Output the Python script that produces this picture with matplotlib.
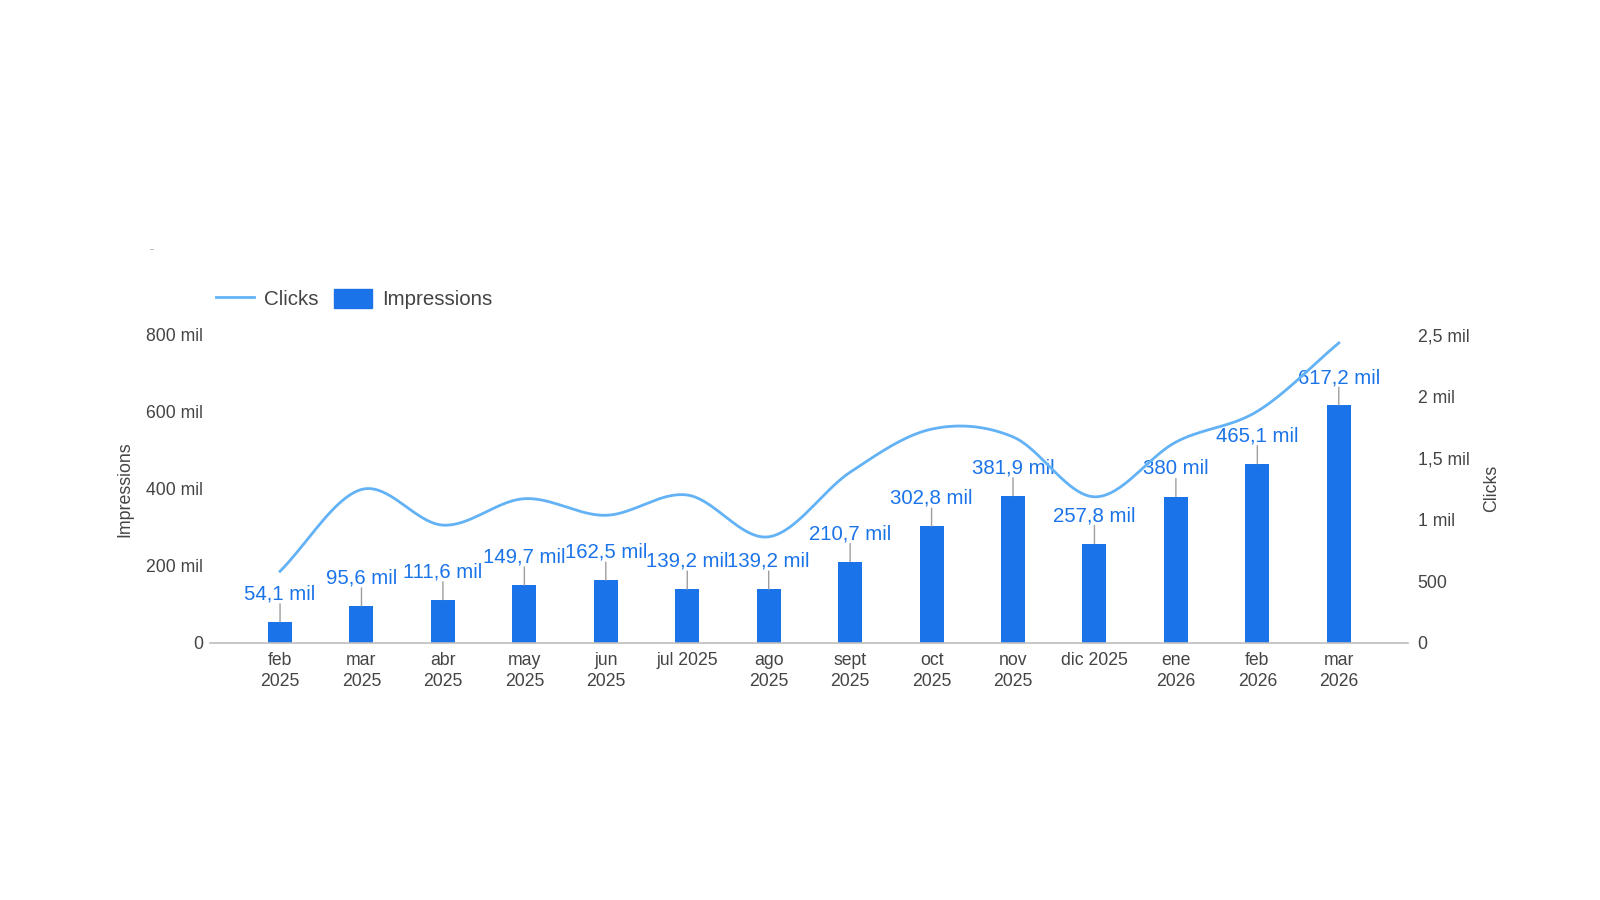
import numpy as np
import matplotlib
matplotlib.use('Agg')
import matplotlib.pyplot as plt
from matplotlib.lines import Line2D
from matplotlib.patches import Patch

plt.rcParams['font.family'] = ['Liberation Sans', 'DejaVu Sans']

# Data
months = ['feb\n2025', 'mar\n2025', 'abr\n2025', 'may\n2025', 'jun\n2025', 'jul 2025',
          'ago\n2025', 'sept\n2025', 'oct\n2025', 'nov\n2025', 'dic 2025', 'ene\n2026',
          'feb\n2026', 'mar\n2026']
impressions = [54.1, 95.6, 111.6, 149.7, 162.5, 139.2, 139.2, 210.7, 302.8, 381.9,
               257.8, 380.0, 465.1, 617.2]  # in mil
imp_labels = ['54,1 mil', '95,6 mil', '111,6 mil', '149,7 mil', '162,5 mil', '139,2 mil',
              '139,2 mil', '210,7 mil', '302,8 mil', '381,9 mil', '257,8 mil', '380 mil',
              '465,1 mil', '617,2 mil']
clicks = [580, 1245, 955, 1170, 1035, 1200, 860, 1385, 1735, 1672, 1185, 1630, 1880, 2435]

left_ticks = [0, 200, 400, 600, 800]
left_ticklabels = ['0', '200 mil', '400 mil', '600 mil', '800 mil']
right_ticks = [0, 500, 1000, 1500, 2000, 2500]
right_ticklabels = ['0', '500', '1 mil', '1,5 mil', '2 mil', '2,5 mil']

BAR = '#1a73e8'
LINE = '#62b2f5'
TXT = '#444444'


def smooth(x, y, n=20):
    # Catmull-Rom spline through the points
    x = np.asarray(x, float)
    y = np.asarray(y, float)
    px = np.concatenate([[2 * x[0] - x[1]], x, [2 * x[-1] - x[-2]]])
    py = np.concatenate([[2 * y[0] - y[1]], y, [2 * y[-1] - y[-2]]])
    xs, ys = [], []
    t = np.linspace(0, 1, n, endpoint=False)
    for i in range(1, len(px) - 2):
        for arr, out in ((px, xs), (py, ys)):
            p0, p1, p2, p3 = arr[i - 1], arr[i], arr[i + 1], arr[i + 2]
            out.extend(0.5 * ((2 * p1) + (-p0 + p2) * t + (2 * p0 - 5 * p1 + 4 * p2 - p3) * t ** 2
                              + (-p0 + 3 * p1 - 3 * p2 + p3) * t ** 3))
    xs.append(x[-1])
    ys.append(y[-1])
    return np.array(xs), np.array(ys)


fig = plt.figure(figsize=(16, 9), dpi=100)
ax = fig.add_axes([0.13125, 0.2859, 0.88 - 0.13125, 0.6278 - 0.2859])
x = np.arange(len(months))

ax.bar(x, impressions, width=0.295, color=BAR, zorder=2)
ax.set_ylim(0, 800)
ax.set_xlim(-0.86, 13.85)
ax.set_yticks(left_ticks)
ax.set_yticklabels(left_ticklabels)
ax.set_xticks(x)
ax.set_xticklabels(months, linespacing=1.3)
ax.tick_params(axis='both', length=0, labelsize=12.7, colors=TXT)
ax.tick_params(axis='y', pad=5)
ax.tick_params(axis='x', pad=7)
for s in ['top', 'left', 'right']:
    ax.spines[s].set_visible(False)
ax.spines['bottom'].set_color('#bdbdbd')
ax.spines['bottom'].set_linewidth(1.2)
ax.set_ylabel('Impressions', fontsize=12.8, color=TXT, labelpad=9)

# value labels with leader lines
for i, (v, lab) in enumerate(zip(impressions, imp_labels)):
    ax.annotate('', xy=(i, v), xytext=(0, 13), textcoords='offset points',
                arrowprops=dict(arrowstyle='-', color='#9e9e9e', lw=1, shrinkA=0, shrinkB=0))
    ax.annotate(lab, xy=(i, v), xytext=(0, 16), textcoords='offset points',
                ha='center', va='baseline', fontsize=14.7, color=BAR, zorder=5)

ax2 = ax.twinx()
sx, sy = smooth(x, clicks)
ax2.plot(sx, sy, color=LINE, lw=2, zorder=3)
ax2.set_ylim(0, 2500)
ax2.set_yticks(right_ticks)
ax2.set_yticklabels(right_ticklabels)
ax2.tick_params(axis='y', length=0, labelsize=12.7, colors=TXT, pad=7)
for s in ['top', 'left', 'right', 'bottom']:
    ax2.spines[s].set_visible(False)
ax2.set_ylabel('Clicks', fontsize=12.8, color=TXT, labelpad=10)

# legend
handles = [Line2D([0], [0], color=LINE, lw=2),
           Patch(facecolor=BAR, edgecolor=BAR)]
fig.legend(handles, ['Clicks', 'Impressions'], loc='center left',
           bbox_to_anchor=(216 / 1600, 1 - 299 / 900), ncol=2, frameon=False,
           fontsize=14.8, handlelength=1.85, handleheight=1.05, handletextpad=0.5,
           columnspacing=0.75, borderpad=0, borderaxespad=0, labelcolor=TXT)

fig.text(151 / 1600, 1 - 250 / 900, '-', fontsize=9, color='#9e9e9e', ha='center', va='center')

fig.savefig('out.png', dpi=100)
